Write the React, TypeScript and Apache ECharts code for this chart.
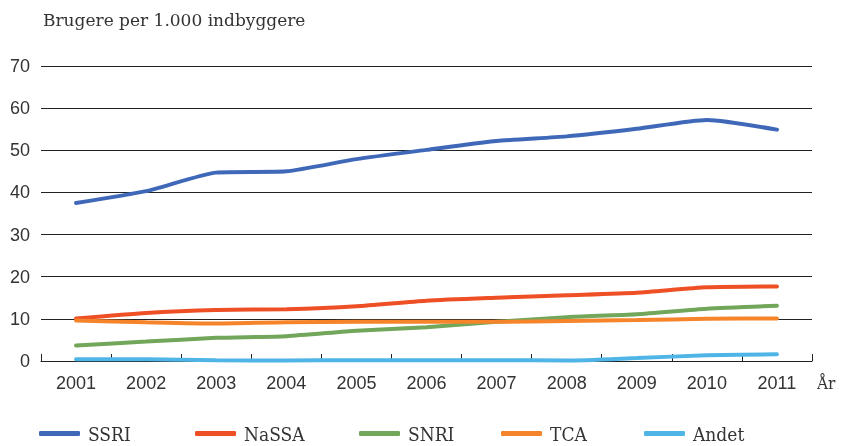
import React, { useEffect, useRef } from "react";
import * as echarts from "echarts";

const years = ["2001", "2002", "2003", "2004", "2005", "2006", "2007", "2008", "2009", "2010", "2011"];
const ssri = [37.5, 40.3, 44.7, 45.0, 47.9, 50.1, 52.2, 53.3, 55.1, 57.2, 54.9];
const nassa = [10.1, 11.4, 12.1, 12.3, 13.0, 14.3, 15.0, 15.6, 16.2, 17.5, 17.7];
const snri = [3.7, 4.6, 5.5, 5.9, 7.2, 8.0, 9.3, 10.4, 11.1, 12.4, 13.1];
const tca = [9.6, 9.2, 8.9, 9.2, 9.3, 9.3, 9.3, 9.5, 9.7, 10.0, 10.1];
const andet = [0.4, 0.4, 0.2, 0.1, 0.2, 0.2, 0.2, 0.1, 0.7, 1.35, 1.6];
const yTicks = [0, 10, 20, 30, 40, 50, 60, 70];

const seriesNames = ["SSRI", "NaSSA", "SNRI", "TCA", "Andet"];
const seriesData = [ssri, nassa, snri, tca, andet];
const colors = ["#3F69B8", "#EF4F25", "#72A65A", "#F5842A", "#4FB5E6"];
const legendLeft = [39, 195, 359, 501, 644];

const SANS = "'Liberation Sans', Arial, sans-serif";
const SERIF = "'DejaVu Serif Condensed', 'DejaVu Serif', serif";

export default function App() {
  const ref = useRef<HTMLDivElement>(null);
  useEffect(() => {
    if (!ref.current) return;
    const chart = echarts.init(ref.current, undefined, { renderer: "svg" });
    chart.setOption({
      animation: false,
      textStyle: { fontFamily: SANS },
      title: {
        text: "Brugere per 1.000 indbyggere",
        left: 38,
        top: 6,
        textStyle: { fontSize: 17, fontWeight: "normal", color: "#333", fontFamily: "'DejaVu Serif', serif" },
      },
      legend: seriesNames.map((n, i) => ({
        data: [n],
        left: legendLeft[i],
        top: 424,
        padding: 0,
        icon: "roundRect",
        itemWidth: 41,
        itemHeight: 5,
        itemGap: 10,
        textStyle: { fontSize: 19, color: "#333", fontFamily: SERIF, padding: [0, 0, 0, 3] },
      })),
      grid: { left: 41, right: 30, top: 66, bottom: 85 },
      xAxis: {
        type: "category",
        data: years,
        boundaryGap: true,
        name: "År",
        nameLocation: "end",
        nameGap: 5,
        nameTextStyle: { fontSize: 17, color: "#333", fontFamily: SERIF, verticalAlign: "top", padding: [13, 0, 0, 0] },
        axisLine: { show: true, lineStyle: { color: "#222", width: 1 } },
        axisTick: { show: true, inside: true, length: 7, lineStyle: { color: "#222" } },
        axisLabel: { fontSize: 18, color: "#333", margin: 13 },
        splitLine: { show: false },
      },
      yAxis: {
        type: "value",
        min: yTicks[0],
        max: yTicks[yTicks.length - 1],
        interval: 10,
        axisLine: { show: false },
        axisTick: { show: false },
        axisLabel: { fontSize: 18, color: "#333", margin: 11 },
        splitLine: { show: true, lineStyle: { color: "#222", width: 1 } },
      },
      series: seriesNames.map((n, i) => ({
        name: n,
        type: "line",
        data: seriesData[i],
        smooth: 0.2,
        symbol: "none",
        lineStyle: { width: 4, color: colors[i], cap: "round" },
        itemStyle: { color: colors[i] },
      })),
    });
    return () => chart.dispose();
  }, []);
  return <div ref={ref} style={{ position: "fixed", left: 0, top: 0, width: 842, height: 446 }} />;
}
